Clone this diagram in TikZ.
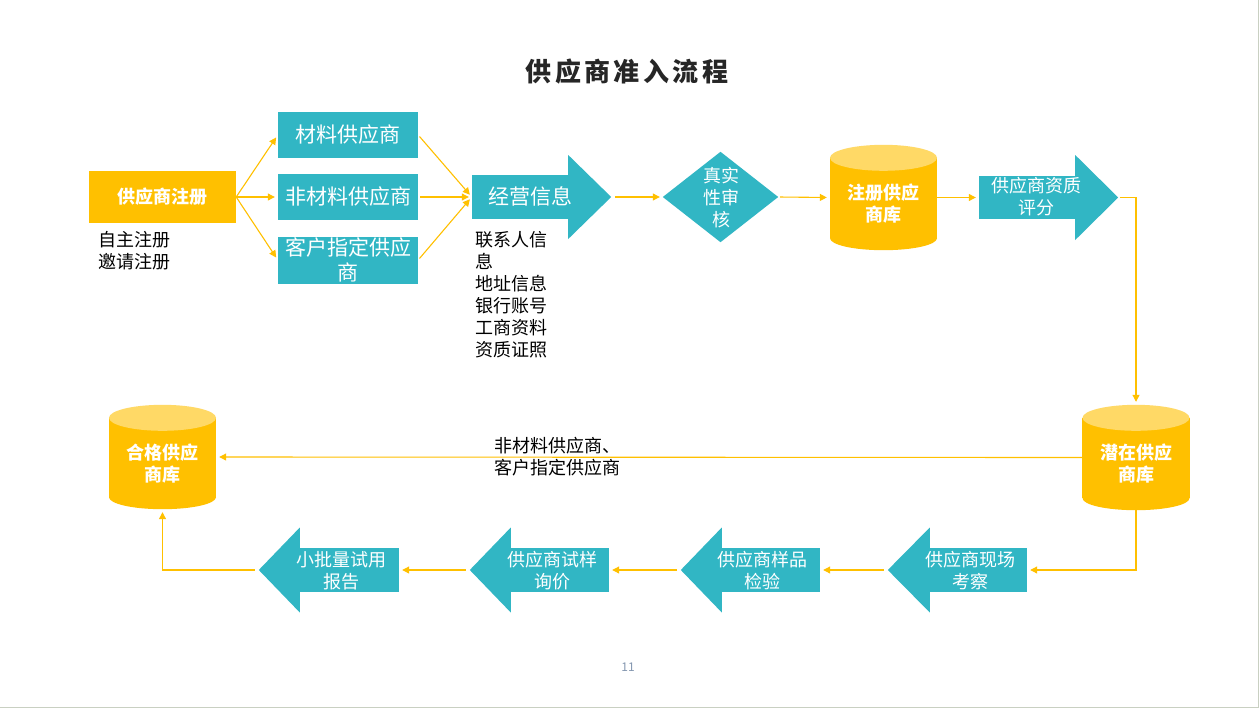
\documentclass[tikz,border=0pt]{standalone}
\usepackage{fontspec}
\setmainfont{Noto Sans CJK SC}
\usetikzlibrary{arrows.meta}
\definecolor{cY}{HTML}{FFC000}
\definecolor{cYL}{HTML}{FFD966}
\definecolor{cT}{HTML}{31B6C4}
\definecolor{cTitle}{HTML}{262626}
\definecolor{cNum}{HTML}{8497B0}
\definecolor{cBorder}{HTML}{C9D0C2}
\tikzset{
  conn/.style={draw=cY, line width=1.1pt, -{Triangle[length=7pt,width=7pt]}, shorten >=3pt, shorten <=2pt},
  ybox/.style={fill=cY, text=white, font=\fontsize{18}{22}\selectfont\bfseries, inner sep=0pt},
  tbox/.style={fill=cT, text=white, font=\fontsize{21}{25}\selectfont, inner sep=0pt, align=center},
  ph/.style={inner sep=0pt, draw=none},
  wtxt/.style={text=white, align=center, inner sep=0pt, font=\fontsize{18}{22}\selectfont},
  wbold/.style={text=white, align=center, inner sep=0pt, font=\fontsize{18}{22}\selectfont\bfseries},
  btxt/.style={text=black, align=left, inner sep=0pt, font=\fontsize{18}{22}\selectfont},
}
% cylinder drawn around a placeholder node
\newcommand\mycyl[1]{%
  \fill[cY] ([yshift=-13pt]#1.north west) rectangle ([yshift=12pt]#1.south east);
  \fill[cY] ([yshift=12pt]#1.south) ellipse [x radius=53.5pt, y radius=12pt];
  \fill[cYL] ([yshift=-13pt]#1.north) ellipse [x radius=53.5pt, y radius=13pt];
}
% right-pointing head: node, length, half height
\newcommand\rhead[3]{%
  \fill[cT] ([yshift=#3pt]#1.east) -- ([xshift=#2pt]#1.east) -- ([yshift=-#3pt]#1.east) -- cycle;
  \coordinate (#1tip) at ([xshift=#2pt]#1.east);
}
% left-pointing head
\newcommand\lhead[3]{%
  \fill[cT] ([yshift=#3pt]#1.west) -- ([xshift=-#2pt]#1.west) -- ([yshift=-#3pt]#1.west) -- cycle;
  \coordinate (#1tip) at ([xshift=-#2pt]#1.west);
}
\begin{document}
\begin{tikzpicture}[x=1pt,y=-1pt]
\useasboundingbox (0,0) rectangle (1260,709);
\fill[white] (0,0) rectangle (1260,709);
\draw[cBorder, line width=1.5pt] (1258.5,0) -- (1258.5,707.5) -- (0,707.5);

% title
\node[font=\fontsize{26}{30}\selectfont\bfseries\addfontfeature{LetterSpace=13}, text=cTitle] (title) at (627,72) {供应商准入流程};

% registration
\node[ybox, minimum width=147pt, minimum height=52pt] (reg) at (162.5,197) {供应商注册};
\node[btxt, anchor=west] (regnote) at (98,251) {自主注册\\邀请注册};

% supplier types
\node[tbox, minimum width=140pt, minimum height=45.5pt] (m1) at (348,135) {材料供应商};
\node[tbox, minimum width=140pt, minimum height=46pt] (m2) at (348,197) {非材料供应商};
\node[tbox, minimum width=140pt, minimum height=47pt] (m3) at (348,260) {客户指定供应\\商};

% business info arrow
\node[ph, fill=cT, minimum width=96pt, minimum height=44pt] (jy) at (520,197) {};
\rhead{jy}{43}{42}
\node[wtxt, font=\fontsize{21}{25}\selectfont] (jyt) at (530,196) {经营信息};
\node[btxt, anchor=west] (info) at (475,295) {联系人信\\息\\地址信息\\银行账号\\工商资料\\资质证照};

% authenticity check
\node[ph, minimum width=115pt, minimum height=90pt] (zs) at (720.5,197) {};
\fill[cT] (zs.west) -- (zs.north) -- (zs.east) -- (zs.south) -- cycle;
\node[wtxt] (zst) at (721,198) {真实\\性审\\核};

% registered supplier db
\node[ph, minimum width=107pt, minimum height=105pt] (c1) at (883.5,197.5) {};
\mycyl{c1}
\node[wbold] (c1t) at (883.5,204) {注册供应\\商库};

% qualification rating arrow
\node[ph, fill=cT, minimum width=96pt, minimum height=43pt] (zz) at (1027,197.5) {};
\rhead{zz}{43}{42.5}
\node[wtxt] (zzt) at (1036,197) {供应商资质\\评分};

% potential supplier db
\node[ph, minimum width=108pt, minimum height=105pt] (c2) at (1136,457.5) {};
\mycyl{c2}
\node[wbold] (c2t) at (1136,464) {潜在供应\\商库};

% qualified supplier db
\node[ph, minimum width=107pt, minimum height=104pt] (c3) at (162.5,457) {};
\mycyl{c3}
\node[wbold] (c3t) at (162.5,464) {合格供应\\商库};

% lower arrows
\node[ph, fill=cT, minimum width=97pt, minimum height=44pt] (xc) at (978.5,570) {};
\lhead{xc}{42}{42.5}
\node[wtxt] (xct) at (970,571) {供应商现场\\考察};

\node[ph, fill=cT, minimum width=98pt, minimum height=44pt] (yp) at (771,570) {};
\lhead{yp}{41}{42.5}
\node[wtxt] (ypt) at (762,571) {供应商样品\\检验};

\node[ph, fill=cT, minimum width=98pt, minimum height=44pt] (sy) at (560,570) {};
\lhead{sy}{41}{42.5}
\node[wtxt] (syt) at (552,571) {供应商试样\\询价};

\node[ph, fill=cT, minimum width=99pt, minimum height=44pt] (xp) at (349.5,570) {};
\lhead{xp}{41}{42.5}
\node[wtxt] (xpt) at (341,571) {小批量试用\\报告};

% label
\node[btxt, anchor=west] (lbl) at (494,457) {非材料供应商、\\客户指定供应商};

% page number
\node[font=\fontsize{12}{14}\selectfont, text=cNum] (pg) at (628,667) {11};

% connectors
\draw[conn, shorten <=0pt] (reg.east) -- (m1.west);
\draw[conn, shorten <=0pt] (reg.east) -- (m2.west);
\draw[conn, shorten <=0pt] (reg.east) -- (m3.west);
\draw[conn] (m1.east) -- (jy.west);
\draw[conn] (m2.east) -- (jy.west);
\draw[conn] (m3.east) -- (jy.west);
\draw[conn, shorten <=4pt] (jytip) -- (zs.west);
\draw[conn] (zs.east) -- (c1.west);
\draw[conn, shorten <=0pt] (c1.east) -- (zz.west);
\draw[conn] (zztip) -| (c2.north);
\draw[conn, shorten <=0pt] (c2.west) -- (c3.east);
\draw[conn, shorten <=0pt] (c2.south) |- (xc.east);
\draw[conn, shorten <=4pt] (xctip) -- (yp.east);
\draw[conn, shorten <=4pt] (yptip) -- (sy.east);
\draw[conn, shorten <=4pt] (sytip) -- (xp.east);
\draw[conn, shorten <=4pt] (xptip) -| (c3.south);
\end{tikzpicture}
\end{document}
